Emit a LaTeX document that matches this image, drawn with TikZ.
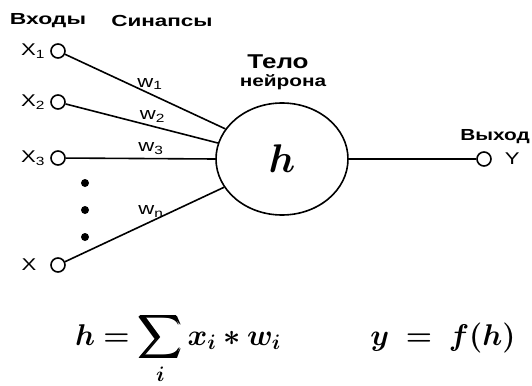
\RequirePackage{fix-cm}
\documentclass[tikz,border=0pt]{standalone}
\usepackage{amsmath,amssymb,bm}
\usepackage[no-math]{fontspec}
\setmainfont{Liberation Sans}[FakeStretch=1.3]
\usepackage{tikz}
\usetikzlibrary{positioning,shapes.geometric,calc}
\newcommand{\wide}[2][1.3]{\scalebox{#1}[1]{#2}}
\tikzset{
  every picture/.style={line width=1.6pt},
}

\begin{document}
\begin{tikzpicture}[
  x=1pt,y=-1pt,
  termc/.style={circle, draw, minimum size=14pt, inner sep=0pt},
  lbl/.style={font=\fontsize{17}{19}\selectfont},
  hdr/.style={font=\bfseries\fontsize{16}{18}\selectfont},
  wgt/.style={font=\fontsize{17}{19}\selectfont},
  neuron/.style={ellipse, draw, minimum width=132pt, minimum height=112pt},
  bullet/.style={circle, fill, minimum size=8pt, inner sep=0pt},
  frm/.style={font=\fontsize{30}{34}\selectfont, anchor=base}
]
\useasboundingbox (0,0) rectangle (532,385);

% headers
\node[hdr] (inhdr) at (48,21) {\wide[1.1]{Входы}};
\node[hdr] (synhdr) at (162,21) {\wide[1.08]{Синапсы}};

% inputs
\node[termc] (x1) at (58,51) {};
\node[termc] (x2) at (58,102) {};
\node[termc] (x3) at (58,158) {};
\node[termc] (xn) at (58,265) {};
\node[lbl, left=1pt of x1] (x1lbl) {X\textsubscript{1}};
\node[lbl, left=1pt of x2] (x2lbl) {X\textsubscript{2}};
\node[lbl, left=1pt of x3] (x3lbl) {X\textsubscript{3}};
\node[lbl] (xnlbl) at (29,265) {X};

\node[bullet] (d1) at (85,183) {};
\node[bullet] (d2) at (85,210) {};
\node[bullet] (d3) at (85,237) {};

% neuron body
\node[neuron] (hb) at (282,159) {\fontsize{40}{44}\selectfont$\bm{h}$};
\node[font=\bfseries\fontsize{20}{22}\selectfont] (tl) at (278,62) {Тело};
\node[hdr] (nr) at (283,82) {нейрона};

\path[draw]
(x1) edge node[wgt, above, pos=.53] {w\textsubscript{1}} (hb.152)
(x2) edge node[wgt, above, pos=.57] {w\textsubscript{2}} (hb.166)
(x3) edge node[wgt, above, pos=.57] {w\textsubscript{3}} (hb.180)
(xn) edge node[wgt, above, pos=.54] {w\textsubscript{n}} (hb.206);

% output
\node[termc] (y) at (484,159) {};
\node[lbl, right=9pt of y] (ylbl) {Y};
\node[hdr] (outhdr) at (495,137) {Выход};
\draw (hb) -- (y);

% formulas
\node[frm] (sumf) at (178,345) {$\displaystyle \bm{h = \sum_i x_i * w_i}$};
\node[frm] (actf) at (443,345) {$\bm{y \;=\; f(h)}$};

\end{tikzpicture}
\end{document}
